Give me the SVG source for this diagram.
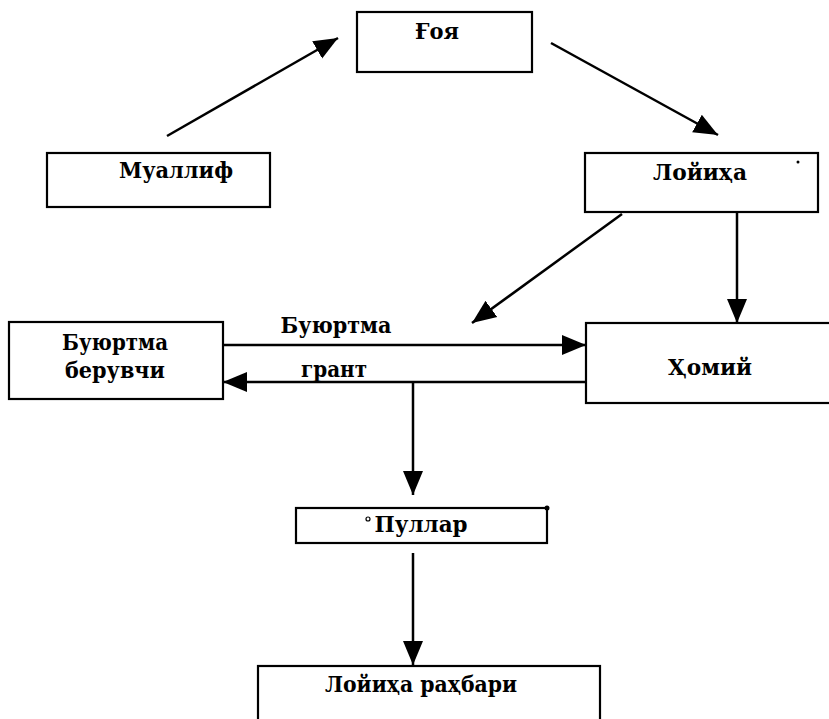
<svg xmlns="http://www.w3.org/2000/svg" width="829" height="719" viewBox="0 0 829 719">
<defs>
<style>
.box{fill:#fff;stroke:#000;stroke-width:2.2}
.t{font-family:'DejaVu Serif','Liberation Serif',serif;font-weight:bold;font-size:22px;fill:#000;text-anchor:middle}
.c{fill:none;stroke:#000;stroke-width:2.5}
</style>
<marker id="ah" markerUnits="userSpaceOnUse" markerWidth="26" markerHeight="22" viewBox="0 0 26 22" refX="24" refY="11" orient="auto">
<path d="M0,1 L24,11 L0,21 Z" fill="#000"/>
</marker>
</defs>
<rect width="829" height="719" fill="#fff"/>
<g id="connectors">
<line class="c" x1="167" y1="136" x2="338" y2="38" marker-end="url(#ah)"/>
<line class="c" x1="551" y1="43" x2="718" y2="135" marker-end="url(#ah)"/>
<line class="c" x1="622" y1="214" x2="472" y2="323" marker-end="url(#ah)"/>
<line class="c" x1="737" y1="212" x2="737" y2="323" marker-end="url(#ah)"/>
<line class="c" x1="223" y1="345" x2="586" y2="345" marker-end="url(#ah)"/>
<line class="c" x1="586" y1="382" x2="223" y2="382" marker-end="url(#ah)"/>
<line class="c" x1="413" y1="382" x2="413" y2="495" marker-end="url(#ah)"/>
<line class="c" x1="413" y1="553" x2="413" y2="665" marker-end="url(#ah)"/>
<text class="t" x="336" y="333" textLength="111" lengthAdjust="spacingAndGlyphs">Буюртма</text>
<text class="t" x="334" y="377" textLength="66" lengthAdjust="spacingAndGlyphs">грант</text>
</g>
<g id="goya">
<rect class="box" x="357" y="12" width="175" height="60"/>
<text class="t" x="437" y="39" textLength="44" lengthAdjust="spacingAndGlyphs">Ғоя</text>
</g>
<g id="muallif">
<rect class="box" x="47" y="153" width="223" height="54"/>
<text class="t" x="176" y="178" textLength="114" lengthAdjust="spacingAndGlyphs">Муаллиф</text>
</g>
<g id="loyiha">
<rect class="box" x="585" y="153" width="233" height="59"/>
<text class="t" x="700" y="180" textLength="94" lengthAdjust="spacingAndGlyphs">Лойиҳа</text>
<circle cx="798" cy="162" r="1.5" fill="#000"/>
</g>
<g id="buyurtma-beruvchi">
<rect class="box" x="9" y="322" width="214" height="77"/>
<text class="t" x="115" y="350" textLength="106" lengthAdjust="spacingAndGlyphs">Буюртма</text>
<text class="t" x="115" y="378" textLength="100" lengthAdjust="spacingAndGlyphs">берувчи</text>
</g>
<g id="homiy">
<rect class="box" x="586" y="323" width="250" height="80"/>
<text class="t" x="710" y="375" textLength="84" lengthAdjust="spacingAndGlyphs">Ҳомий</text>
</g>
<g id="pullar">
<rect class="box" x="296" y="508" width="251" height="35"/>
<circle cx="368" cy="519" r="2" fill="none" stroke="#000" stroke-width="1.2"/>
<text class="t" x="421" y="532" textLength="93" lengthAdjust="spacingAndGlyphs">Пуллар</text>
<circle cx="547" cy="508" r="2.5" fill="#000"/>
</g>
<g id="loyiha-rahbari">
<rect class="box" x="258" y="666" width="342" height="60"/>
<text class="t" x="421" y="692" textLength="192" lengthAdjust="spacingAndGlyphs">Лойиҳа раҳбари</text>
</g>
</svg>
